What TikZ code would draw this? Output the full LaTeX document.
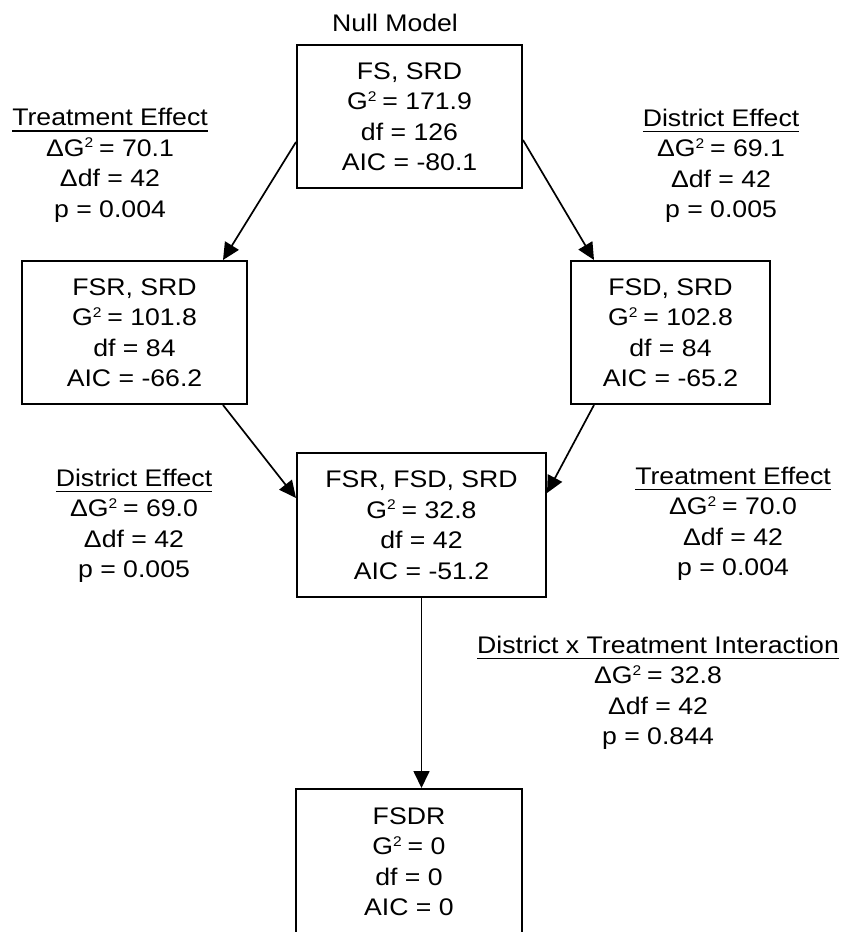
\documentclass[tikz,border=0pt]{standalone}
\usepackage{fontspec}
\setmainfont{Liberation Sans}[FakeStretch=1.11]
\usetikzlibrary{arrows.meta,calc}

% underlined heading of an effect label
\newcommand\ulabel[1]{\setbox0\hbox{#1}\rlap{\rule[-6pt]{\wd0}{1.5pt}}\box0}
% G squared with a small, high exponent
\newcommand\Gsq{G\raisebox{8.5pt}{\fontsize{14}{14}\selectfont 2}\hspace{-1.5pt}}

\begin{document}
\begin{tikzpicture}[x=1pt,y=-1pt,
  every node/.style={font=\fontsize{24}{30.5}\selectfont, inner sep=0pt, align=center},
  model/.style={draw, line width=2pt, rectangle},
  effect/.style={},
  link/.style={line width=1.7pt, -{Triangle[length=17pt,width=16pt]}}]
  \useasboundingbox (0,0) rectangle (843,932);
  \clip (0,0) rectangle (843,932);

  % model boxes
  \node[model, minimum width=225, minimum height=143] (nullbox) at (409.5,116.5)
    {FS, SRD\\ \Gsq{} = 171.9\\ df = 126\\ AIC = -80.1};
  \node[model, minimum width=225, minimum height=143] (fsr) at (134.5,332.5)
    {FSR, SRD\\ \Gsq{} = 101.8\\ df = 84\\ AIC = -66.2};
  \node[model, minimum width=199, minimum height=143] (fsd) at (670.5,332.5)
    {FSD, SRD\\ \Gsq{} = 102.8\\ df = 84\\ AIC = -65.2};
  \node[model, minimum width=249, minimum height=144] (mid) at (421.5,525)
    {FSR, FSD, SRD\\ \Gsq{} = 32.8\\ df = 42\\ AIC = -51.2};
  \node[model, minimum width=226, minimum height=145] (sat) at (409,861.5)
    {FSDR\\ \Gsq{} = 0\\ df = 0\\ AIC = 0};

  % captions and effect labels
  \node[anchor=base] (nulltitle) at (395,31.7) {Null Model};
  \node[effect] (te1) at (110,165.3)
    {\ulabel{Treatment Effect}\\ Δ\Gsq{} = 70.1\\ Δdf = 42\\ p = 0.004};
  \node[effect] (de1) at (721,166)
    {\ulabel{District Effect}\\ Δ\Gsq{} = 69.1\\ Δdf = 42\\ p = 0.005};
  \node[effect] (de2) at (134,526)
    {\ulabel{District Effect}\\ Δ\Gsq{} = 69.0\\ Δdf = 42\\ p = 0.005};
  \node[effect] (te2) at (733,524)
    {\ulabel{Treatment Effect}\\ Δ\Gsq{} = 70.0\\ Δdf = 42\\ p = 0.004};
  \node[effect] (dxt) at (658,693)
    {\ulabel{District x Treatment Interaction}\\ Δ\Gsq{} = 32.8\\ Δdf = 42\\ p = 0.844};

  % model comparisons
  \draw[link] ($(nullbox.west)+(0,25.5)$) -- ($(fsr.north east)+(-25,0)$);
  \draw[link] ($(nullbox.east)+(0,23.5)$) -- ($(fsd.north west)+(24,0)$);
  \draw[link] ($(fsr.south east)+(-25,0)$) -- ($(mid.west)+(0,-27)$);
  \draw[link] ($(fsd.south west)+(24,0)$) -- ($(mid.east)+(0,-32)$);
  \draw[link] (mid.south) -- (mid.south |- sat.north);
\end{tikzpicture}
\end{document}
